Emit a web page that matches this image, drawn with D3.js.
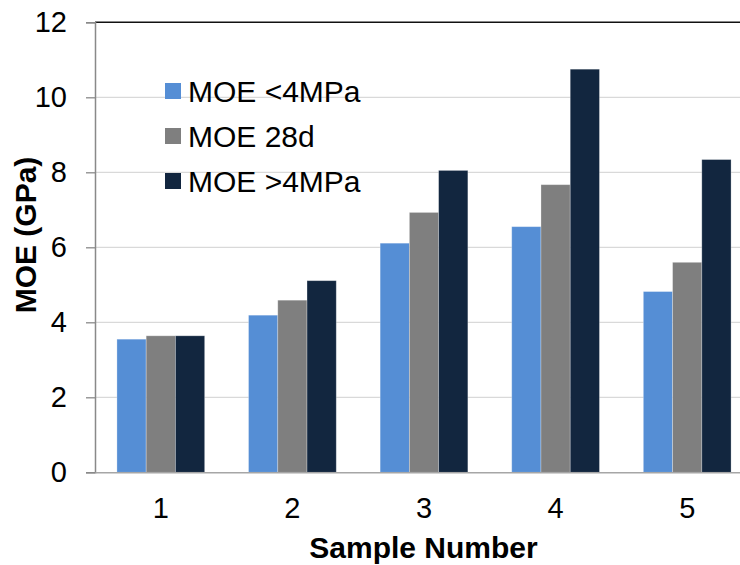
<!DOCTYPE html>
<html>
<head>
<meta charset="utf-8">
<script src="https://cdn.jsdelivr.net/npm/d3@7"></script>
<style>
  body { margin: 0; background: #fff; }
  svg text { font-family: "Liberation Sans", Arial, sans-serif; }
</style>
</head>
<body>
<div id="chart"></div>
<script>
// data
const samples = ["1", "2", "3", "4", "5"];
const seriesNames = ["MOE <4MPa", "MOE 28d", "MOE >4MPa"];
const moeLow = [3.55, 4.19, 6.11, 6.55, 4.82];
const moe28d = [3.64, 4.59, 6.93, 7.67, 5.60];
const moeHigh = [3.64, 5.11, 8.05, 10.75, 8.34];
const yTicks = [0, 2, 4, 6, 8, 10, 12];

const colors = ["#558ed5", "#7f7f7f", "#12263f"];
const allSeries = [moeLow, moe28d, moeHigh];

const width = 740, height = 565;

const svg = d3.select("#chart")
    .append("svg")
    .attr("width", width)
    .attr("height", height);

const x = d3.scaleBand()
    .domain(samples)
    .range([95, 753])
    .paddingInner(1/3)
    .paddingOuter(1/6);

const xInner = d3.scaleBand()
    .domain(seriesNames)
    .range([0, x.bandwidth()]);

const y = d3.scaleLinear()
    .domain([0, 12])
    .range([472.3, 22.3]);

// gridlines
svg.append("g")
    .selectAll("line")
    .data(yTicks.filter(t => t > 0))
    .join("line")
    .attr("x1", 95)
    .attr("x2", width)
    .attr("y1", d => y(d))
    .attr("y2", d => y(d))
    .attr("stroke", d => d === 12 ? "#111" : "#d9d9d9")
    .attr("stroke-width", d => d === 12 ? 1.5 : 1.3);

// bars
samples.forEach((s, i) => {
    const g = svg.append("g").attr("transform", `translate(${x(s)},0)`);
    seriesNames.forEach((name, j) => {
        const v = allSeries[j][i];
        g.append("rect")
            .attr("x", xInner(name))
            .attr("y", y(v))
            .attr("width", xInner.bandwidth())
            .attr("height", y(0) - y(v))
            .attr("fill", colors[j])
            .attr("stroke", "#ffffff")
            .attr("stroke-opacity", 0.35)
            .attr("stroke-width", 0.8);
    });
});

// y axis
const yAxis = svg.append("g")
    .attr("transform", "translate(95,0)")
    .call(d3.axisLeft(y).tickValues(yTicks).tickSize(9).tickPadding(19));
yAxis.select(".domain").attr("stroke", "#898989").attr("stroke-width", 1.5);
yAxis.selectAll(".tick line").attr("stroke", "#898989").attr("stroke-width", 1.3);
yAxis.selectAll(".tick text")
    .attr("font-size", 29)
    .attr("fill", "#000")
    .style("font-family", "'Liberation Sans', Arial, sans-serif");

// x axis
const xAxis = svg.append("g")
    .attr("transform", `translate(0,${y(0)})`)
    .call(d3.axisBottom(x).tickSize(0).tickPadding(25));
xAxis.select(".domain").attr("stroke", "#a6a6a6").attr("stroke-width", 1.5);
xAxis.selectAll(".tick text")
    .attr("font-size", 29)
    .attr("fill", "#000")
    .style("font-family", "'Liberation Sans', Arial, sans-serif");

// axis titles
svg.append("text")
    .attr("x", 423.5)
    .attr("y", 558)
    .attr("text-anchor", "middle")
    .attr("font-size", 30)
    .attr("font-weight", "bold")
    .text("Sample Number");

svg.append("text")
    .attr("transform", "translate(36,235) rotate(-90)")
    .attr("text-anchor", "middle")
    .attr("font-size", 30)
    .attr("font-weight", "bold")
    .text("MOE (GPa)");

// legend
const legend = svg.append("g").attr("transform", "translate(165,91)");
seriesNames.forEach((name, j) => {
    const row = legend.append("g").attr("transform", `translate(0,${j * 45})`);
    row.append("rect")
        .attr("x", 0)
        .attr("y", -8)
        .attr("width", 16)
        .attr("height", 16)
        .attr("fill", colors[j]);
    row.append("text")
        .attr("x", 23)
        .attr("y", 10.5)
        .attr("font-size", 30)
        .attr("fill", "#000")
        .text(name);
});
</script>
</body>
</html>
